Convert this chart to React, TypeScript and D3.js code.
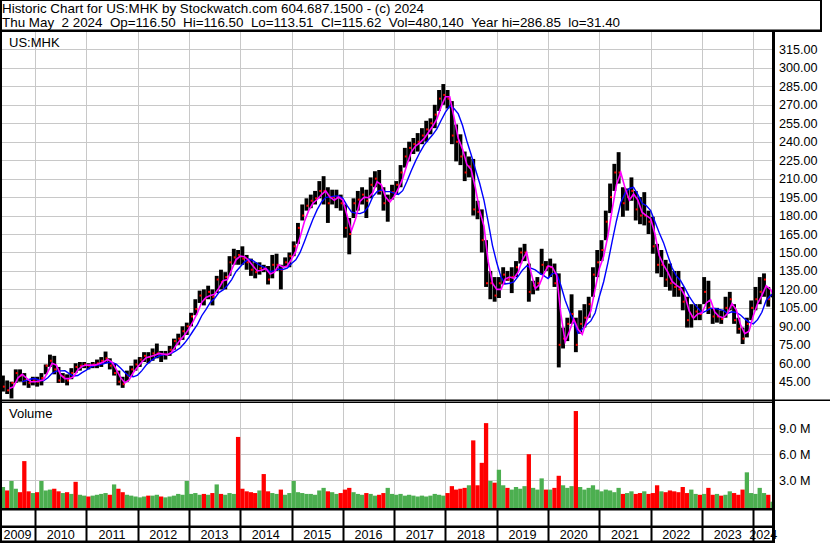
import React, { useEffect, useRef } from 'react';
import * as d3 from 'd3';

// monthly bars, May 2009 .. May 2024
const highs = [
  50, 46, 45, 55, 55, 52, 46, 49,
  49, 52, 59, 67, 66, 57, 52, 51, 56, 60, 61, 61,
  60, 61, 63, 65, 69.5, 64, 60, 54, 49, 54, 58, 63,
  65, 69, 69, 72, 76, 70, 70, 74, 80, 84, 90, 93,
  101, 112, 119, 120, 123, 120, 131, 136, 134, 147, 153, 152,
  155, 148, 145, 142, 142, 140, 139, 148, 149, 140, 146, 150,
  159, 174, 189, 194, 197, 200, 208, 212, 203, 201, 201, 197,
  189, 178, 194, 200, 203, 201, 211, 216, 217, 203, 197, 205,
  208, 221, 235, 240, 243, 247, 251, 257, 259, 270, 282, 286.85,
  282, 273, 254, 246, 232, 228, 226, 192, 185, 160, 135, 130,
  130, 138, 135, 138, 143, 154, 157, 141, 127, 130, 153, 143,
  145, 141, 133, 89, 97, 116, 97, 103, 108, 114, 138, 152,
  160, 184, 206, 222, 231.5, 203, 202, 211, 200, 195, 199, 184,
  179, 157, 152, 144, 141, 135, 135, 122, 114, 108, 108, 108,
  130, 127, 105, 105, 103, 114, 118, 108, 97, 89, 97, 111,
  122, 130, 133, 122, 116.5,
];
const lows = [
  37, 35, 31.4, 44, 45, 42, 40, 42,
  41, 42, 51, 57, 51, 44, 44, 42, 47, 52, 54, 56,
  55, 56, 56, 57, 60, 55, 50, 42, 40, 45, 49, 54,
  57, 61, 60, 62, 64, 61, 63, 66, 71, 75, 79, 83,
  90, 99, 109, 107, 112, 107, 117, 120, 120, 131, 140, 140,
  140, 136, 131, 129, 132, 134, 124, 129, 135, 120, 138, 138,
  147, 157, 176, 184, 186, 189, 194, 189, 174, 189, 186, 184,
  162, 148.5, 178, 184, 189, 178, 194, 203, 197, 184, 175, 193,
  197, 203, 219, 224, 230, 232, 238, 240, 246, 251, 265, 270,
  267, 238, 224, 221, 208, 211, 180, 177, 150, 122, 112, 110,
  113, 124, 127, 117, 130, 141, 143, 110, 116, 119, 132, 135,
  130, 122, 56.6, 72, 78, 92, 69, 84, 89, 97, 114, 130,
  143, 160, 182, 200, 206, 179, 184, 192, 176, 173, 172, 165,
  149, 133, 130, 122, 119, 114, 114, 103, 89, 89, 95, 95,
  108, 100, 92, 93, 92, 97, 103, 92, 84, 75.6, 81, 95,
  103, 108, 114, 106, 113.51,
];
const closes = [
  41, 38, 44, 52, 50, 46, 44, 46,
  45, 48, 58, 62, 55, 46, 49, 46, 52, 57, 58, 59,
  58, 59, 60, 62, 64, 58, 52, 45, 43, 50, 55, 59,
  63, 66, 65, 68, 68, 67, 67, 71, 78, 80, 86, 90,
  98, 104, 115, 112, 118, 114, 128, 126, 130, 142, 146, 148,
  145, 142, 136, 134, 137, 137, 128, 140, 140, 136, 142, 147,
  155, 170, 180, 188, 192, 194, 200, 200, 190, 195, 195, 190,
  170, 165, 190, 193, 197, 192, 205, 210, 200, 190, 192, 199,
  205, 215, 228, 235, 238, 240, 245, 250, 255, 262, 275, 278,
  275, 245, 240, 228, 215, 220, 185, 183, 160, 125, 125, 115,
  125, 132, 128, 130, 138, 150, 150, 118, 123, 125, 140, 138,
  138, 125, 75, 80, 92, 100, 75, 92, 97, 108, 132, 142,
  152, 175, 195, 215, 215, 190, 195, 200, 185, 180, 180, 175,
  155, 140, 140, 128, 125, 122, 120, 110, 95, 98, 102, 100,
  118, 105, 98, 98, 96, 105, 112, 95, 88, 80, 92, 105,
  112, 118, 128, 112, 115.62,
];
// weekly volume level per month, millions
const volumes = [
  2.2, 1.8, 2.9, 2.0, 1.6, 5.2, 1.7, 1.5,
  1.6, 2.9, 1.8, 1.9, 2.0, 1.7, 1.5, 1.6, 1.4, 2.8, 1.3, 1.2,
  1.1, 1.2, 1.3, 1.4, 1.5, 1.3, 2.5, 2.0, 1.6, 1.3, 1.2, 1.1,
  1.0, 1.1, 1.2, 1.2, 1.3, 1.1, 1.0, 1.1, 1.2, 1.4, 1.3, 2.9,
  1.4, 1.5, 1.3, 1.4, 1.3, 1.5, 2.5, 1.4, 1.3, 1.5, 1.4, 8.0,
  2.0, 1.7, 1.6, 1.5, 1.8, 3.7, 1.7, 1.5, 1.4, 1.9, 1.3, 1.5,
  2.9, 1.6, 1.5, 1.4, 1.4, 1.3, 1.8, 2.1, 1.7, 1.6, 1.4, 1.5,
  1.9, 2.1, 1.6, 1.4, 1.3, 1.5, 1.4, 1.2, 1.3, 1.5, 2.1, 1.4,
  1.3, 1.4, 1.2, 1.3, 1.2, 1.1, 1.2, 1.1, 1.2, 1.4, 1.3, 1.2,
  1.5, 2.3, 1.9, 2.0, 2.1, 2.4, 7.6, 2.4, 5.0, 9.6, 2.9, 2.7,
  4.2, 2.4, 2.1, 1.9, 2.2, 2.0, 2.3, 6.0, 2.1, 1.9, 3.2, 1.9,
  1.9, 2.1, 3.5, 2.4, 2.1, 2.3, 11.0, 2.2, 1.9, 2.1, 2.4, 1.9,
  1.7, 1.9, 1.8, 1.6, 2.1, 1.4, 1.5, 1.7, 1.4, 1.5, 1.7, 1.4,
  1.5, 2.4, 1.7, 1.6, 1.8, 1.7, 1.6, 2.2, 1.5, 1.9, 1.4, 1.3,
  1.4, 2.1, 1.3, 1.4, 1.2, 1.3, 1.7, 1.5, 1.3, 1.9, 3.9, 1.5,
  1.4, 2.1, 1.5, 1.3, 0.5,
];
// months whose spike bar is drawn red / green in the picture
const redSpikes = [5, 17, 55, 61, 110, 113, 123, 134];
const greenSpikes = [2, 9, 26, 43, 50, 68, 116, 174];

const years = d3.range(2009, 2025);
const priceTicks = d3.range(45, 316, 15);
const volTicks = [3, 6, 9];
const header1 = 'Historic Chart for US:MHK by Stockwatch.com 604.687.1500 - (c) 2024';
const header2 = 'Thu May  2 2024  Op=116.50  Hi=116.50  Lo=113.51  Cl=115.62  Vol=480,140  Year hi=286.85  lo=31.40';

const firstMonth = 2009 + 4 / 12;
const font = 'Arial, "Liberation Sans", sans-serif';

function movingAvg(vals: number[], n: number) {
  return vals.map((v, i) => (i < n - 1 ? null : d3.mean(vals.slice(i - n + 1, i + 1)) as number));
}

function volColor(i: number) {
  if (redSpikes.includes(i)) return '#ff0000';
  if (greenSpikes.includes(i)) return '#4caf50';
  return i > 0 && closes[i] < closes[i - 1] ? '#ff0000' : '#4caf50';
}

export default function App() {
  const ref = useRef<SVGSVGElement>(null);

  useEffect(() => {
    const svg = d3.select(ref.current);
    svg.selectAll('*').remove();
    const W = 830;
    const H = 543;
    const right = 773;
    const mainTop = 32;
    const mainBottom = 400;
    const volTop = 403;
    const volBottom = 509;

    const x = d3.scaleLinear().domain([2010, 2024]).range([35, 753.3]);
    const y = d3.scaleLinear().domain([45, 315]).range([381.7, 49.4]);
    const yv = d3.scaleLinear().domain([0, 9]).range([506, 428.3]);
    const mw = x(2010 + 1 / 12) - x(2010);
    const mx = (i: number) => x(firstMonth + i / 12);

    svg.append('rect').attr('width', W).attr('height', H).attr('fill', '#fff');

    const defs = svg.append('defs');
    defs.append('clipPath').attr('id', 'main').append('rect')
      .attr('x', 2).attr('y', mainTop).attr('width', right - 2).attr('height', mainBottom - mainTop);
    defs.append('clipPath').attr('id', 'vol').append('rect')
      .attr('x', 2).attr('y', volTop).attr('width', right - 2).attr('height', volBottom - volTop);

    // header
    svg.append('text').attr('x', 2).attr('y', 13).attr('font-size', 13.4).attr('font-family', font)
      .style('white-space', 'pre').text(header1);
    svg.append('text').attr('x', 2).attr('y', 27).attr('font-size', 13.4).attr('font-family', font)
      .style('white-space', 'pre').text(header2);

    // grids
    const grid = svg.append('g').attr('stroke', '#c8c8c8').attr('stroke-width', 1);
    years.slice(1).forEach((yr) => {
      const gx = Math.round(x(yr)) + 0.5;
      grid.append('line').attr('x1', gx).attr('x2', gx).attr('y1', mainTop).attr('y2', mainBottom);
      grid.append('line').attr('x1', gx).attr('x2', gx).attr('y1', volTop).attr('y2', volBottom);
    });
    priceTicks.forEach((p) => {
      const gy = Math.round(y(p)) + 0.5;
      grid.append('line').attr('x1', 2).attr('x2', right).attr('y1', gy).attr('y2', gy);
    });
    volTicks.forEach((v) => {
      const gy = Math.round(yv(v)) + 0.5;
      grid.append('line').attr('x1', 2).attr('x2', right).attr('y1', gy).attr('y2', gy);
    });

    // price bars
    const bars = svg.append('g').attr('clip-path', 'url(#main)');
    bars.selectAll('rect.hl').data(highs).join('rect')
      .attr('x', (d, i) => mx(i) + 0.2)
      .attr('width', mw - 0.4)
      .attr('y', (d) => y(d))
      .attr('height', (d, i) => y(lows[i]) - y(d))
      .attr('fill', '#000');
    bars.selectAll('rect.cl').data(closes).join('rect')
      .attr('x', (d, i) => mx(i) + mw - 2.2)
      .attr('width', 2)
      .attr('y', (d) => y(d) - 1)
      .attr('height', 2)
      .attr('fill', '#ff0000');

    const lineGen = d3.line<number | null>()
      .defined((d) => d !== null)
      .x((d, i) => mx(i + 1))
      .y((d) => y(d as number));
    bars.append('path').datum(movingAvg(closes, 5)).attr('d', lineGen)
      .attr('fill', 'none').attr('stroke', '#0000ff').attr('stroke-width', 1.4);
    bars.append('path').datum(movingAvg(closes, 2)).attr('d', lineGen)
      .attr('fill', 'none').attr('stroke', '#ff00ff').attr('stroke-width', 1.6);

    // volume
    const vol = svg.append('g').attr('clip-path', 'url(#vol)');
    vol.selectAll('rect').data(volumes).join('rect')
      .attr('x', (d, i) => mx(i))
      .attr('width', mw)
      .attr('y', (d) => yv(d))
      .attr('height', (d) => volBottom - yv(d))
      .attr('fill', (d, i) => volColor(i));

    // labels in panels
    svg.append('text').attr('x', 9).attr('y', 46.5).attr('font-size', 13).attr('font-family', font).text('US:MHK');
    svg.append('text').attr('x', 9).attr('y', 417.5).attr('font-size', 13).attr('font-family', font).text('Volume');

    // right axis
    const axis = svg.append('g').attr('font-size', 12.6).attr('font-family', font).attr('fill', '#000');
    priceTicks.forEach((p) => {
      axis.append('text').attr('x', 779).attr('y', y(p) + 4.5).text(p.toFixed(2));
    });
    volTicks.forEach((v) => {
      axis.append('text').attr('x', 779).attr('y', yv(v) + 4.5).text(`${v.toFixed(1)} M`);
    });

    // frame
    const frame = svg.append('g').attr('fill', '#000');
    frame.append('rect').attr('x', 0).attr('y', 29.5).attr('width', 822).attr('height', 2.5);
    frame.append('rect').attr('x', 820).attr('y', 0).attr('width', 2).attr('height', 32);
    frame.append('rect').attr('x', 0).attr('y', 0).attr('width', 822).attr('height', 1);
    frame.append('rect').attr('x', 0).attr('y', 0).attr('width', 2).attr('height', H);
    frame.append('rect').attr('x', right - 1).attr('y', mainTop).attr('width', 3).attr('height', H - mainTop);
    frame.append('rect').attr('x', 0).attr('y', mainBottom - 0.5).attr('width', W).attr('height', 1.5);
    frame.append('rect').attr('x', 0).attr('y', volTop - 1.5).attr('width', right).attr('height', 1.5);
    frame.append('rect').attr('x', 0).attr('y', volBottom - 1).attr('width', right).attr('height', 2.5);
    frame.append('rect').attr('x', 0).attr('y', 525.5).attr('width', right).attr('height', 2.5);
    frame.append('rect').attr('x', 0).attr('y', 540.5).attr('width', right).attr('height', 2.5);
    years.slice(1).forEach((yr) => {
      frame.append('rect').attr('x', Math.round(x(yr)) - 0.5).attr('y', volBottom).attr('width', 2).attr('height', H - volBottom);
    });

    // year labels
    const yl = svg.append('g').attr('font-size', 12.6).attr('font-family', font).attr('text-anchor', 'middle');
    years.forEach((yr) => {
      const a = Math.max(0, x(yr));
      const b = Math.min(right, x(yr + 1));
      yl.append('text').attr('x', (a + b) / 2).attr('y', 539).text(String(yr));
    });
  }, []);

  return <svg ref={ref} width={830} height={543} style={{ position: 'absolute', left: 0, top: 0 }} />;
}
